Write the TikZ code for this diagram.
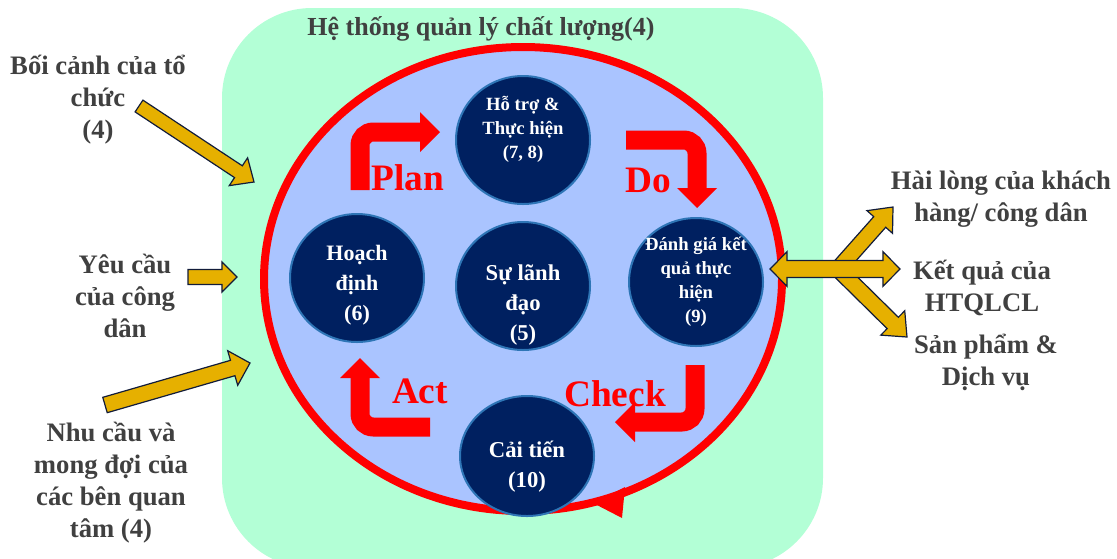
\documentclass[tikz,border=0pt]{standalone}
\usepackage{fontspec}
\setmainfont{Liberation Serif}
\usetikzlibrary{arrows.meta,calc,shapes.geometric}
\definecolor{qmsgreen}{RGB}{179,255,214}
\definecolor{ringblue}{RGB}{170,196,255}
\definecolor{pdcared}{RGB}{255,0,0}
\definecolor{discnavy}{RGB}{0,32,96}
\definecolor{discedge}{RGB}{46,117,182}
\definecolor{inputgold}{RGB}{230,176,0}
\definecolor{inputedge}{RGB}{18,28,58}
\definecolor{labelgray}{RGB}{64,64,64}

\newcommand{\fatarrow}[5]{%
  \coordinate (fa-base) at ($(#2)!#5!(#1)$);
  \filldraw[goldarrow] ($(#1)!#3!90:(#2)$) -- ($(fa-base)!#3!-90:(#1)$)
    -- ($(fa-base)!#4!-90:(#1)$) -- (#2) -- ($(fa-base)!#4!90:(#1)$)
    -- ($(fa-base)!#3!90:(#1)$) -- ($(#1)!#3!-90:(#2)$) -- cycle;
}
\newcommand{\fatdouble}[5]{%
  \coordinate (fd-a) at ($(#1)!#5!(#2)$);
  \coordinate (fd-b) at ($(#2)!#5!(#1)$);
  \filldraw[goldarrow] (#1) -- ($(fd-a)!#4!90:(#2)$) -- ($(fd-a)!#3!90:(#2)$)
    -- ($(fd-b)!#3!-90:(#1)$) -- ($(fd-b)!#4!-90:(#1)$) -- (#2)
    -- ($(fd-b)!#4!90:(#1)$) -- ($(fd-b)!#3!90:(#1)$)
    -- ($(fd-a)!#3!-90:(#2)$) -- ($(fd-a)!#4!-90:(#2)$) -- cycle;
}

\begin{document}
\begin{tikzpicture}[
  x=0.75pt, y=-0.75pt,
  goldarrow/.style={fill=inputgold,draw=inputedge,line width=0.9pt,line join=miter},
  ring/.style={draw=pdcared,line width=6pt,fill=ringblue},
  pdca/.style={draw=pdcared,line width=14.25pt,rounded corners=10pt,
    -{Triangle[length=15pt,width=30pt,line width=0pt]}},
  pdcaword/.style={text=pdcared,font=\fontsize{28pt}{30pt}\selectfont\bfseries},
  disc/.style={ellipse,fill=discnavy,draw=discedge,line width=1.5pt,
    minimum width=100.5pt,minimum height=96pt,inner sep=0pt},
  disctext/.style={text=white,align=center,inner sep=0pt},
  big/.style={font=\fontsize{17pt}{22.5pt}\selectfont\bfseries},
  small/.style={font=\fontsize{14pt}{18pt}\selectfont\bfseries},
  inlabel/.style={align=center,text=labelgray,inner sep=0pt,
    font=\fontsize{20pt}{24pt}\selectfont\bfseries}
]
\useasboundingbox (0,0) rectangle (1117,558);
\fill[qmsgreen,rounded corners=67.5pt] (222,8) rectangle (823,568);

\node[inlabel,font=\fontsize{19.5pt}{24pt}\selectfont\bfseries] (qmstitle) at (481,29) {Hệ thống quản lý chất lượng(4)};

\node[inlabel] (context) at (98,100) {Bối cảnh của tổ\\chức\\(4)};
\node[inlabel] (citizen) at (125,296) {Yêu cầu\\của công\\dân};
\node[inlabel] (parties) at (111,483) {Nhu cầu và\\mong đợi của\\các bên quan\\tâm (4)};
\node[inlabel] (satisfy) at (1001,199) {Hài lòng của khách\\hàng/ công dân};
\node[inlabel] (results) at (982,288) {Kết quả của\\HTQLCL};
\node[inlabel] (products) at (986,362) {Sản phẩm \&\\Dịch vụ};

\coordinate (contexttail) at (139,106);
\coordinate (contexttip) at (254,182);
\coordinate (citizentail) at (188,277);
\coordinate (citizentip) at (237,277);
\coordinate (partiestail) at (105,405);
\coordinate (partiestip) at (250,363);
\fatarrow{contexttail}{contexttip}{5.3pt}{12.5pt}{14pt}
\fatarrow{citizentail}{citizentip}{5.6pt}{11.3pt}{11.3pt}
\fatarrow{partiestail}{partiestip}{6pt}{13.5pt}{13.5pt}

\draw[ring] (523,279) ellipse [x radius=194.25pt,y radius=174pt];
\fill[pdcared] (593,503) -- (625,487) -- (622,518) -- cycle;

\draw[pdca] (360,190) -- (360,132) -- (440,132);
\draw[pdca] (626,140) -- (697,140) -- (697,208);
\draw[pdca] (695,365) -- (695,422) -- (615,422);
\draw[pdca] (430,427) -- (360,427) -- (360,358);
\node[pdcaword] (plan) at (408,178) {Plan};
\node[pdcaword] (do) at (648,180) {Do};
\node[pdcaword] (check) at (615,394) {Check};
\node[pdcaword] (act) at (420,391) {Act};

\node[disc] (support) at (523,140) {};
\node[disc] (planning) at (357,278) {};
\node[disc] (leadership) at (523,286) {};
\node[disc] (evaluation) at (696,282) {};
\node[disc,minimum height=90pt] (improvement) at (527,456) {};
\node[disctext,small] (supporttxt) at (523,129) {Hỗ trợ \&\\Thực hiện\\(7, 8)};
\node[disctext,big,font=\fontsize{16.5pt}{22.5pt}\selectfont\bfseries] (planningtxt) at (357,285) {Hoạch\\định\\(6)};
\node[disctext,big] (leadershiptxt) at (523,305) {Sự lãnh\\đạo\\(5)};
\node[disctext,small] (evaluationtxt) at (696,282) {Đánh giá kết\\quả thực\\hiện\\(9)};
\node[disctext,big] (improvementtxt) at (527,467) {Cải tiến\\(10)};

\coordinate (outhub) at (838,269);
\coordinate (satisfytip) at (893,207);
\coordinate (productstip) at (907,337);
\coordinate (resultsin) at (770,269);
\coordinate (resultstip) at (900,269);
\fatarrow{outhub}{satisfytip}{6pt}{12.8pt}{15pt}
\fatarrow{outhub}{productstip}{6pt}{12.8pt}{15pt}
\fatdouble{resultsin}{resultstip}{6.4pt}{13pt}{12.8pt}
\end{tikzpicture}
\end{document}
